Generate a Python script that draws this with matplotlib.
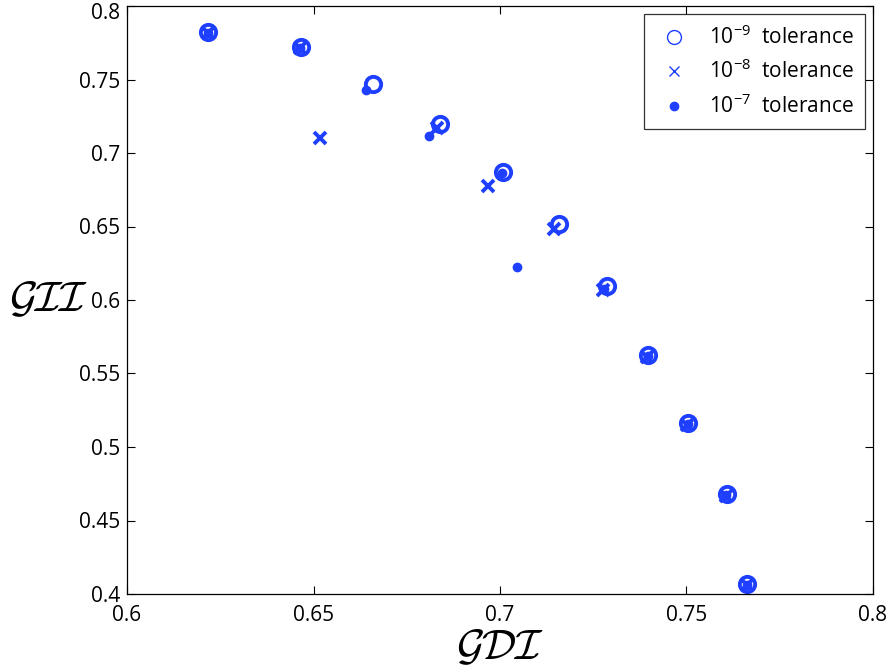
import matplotlib
matplotlib.use("Agg")
import matplotlib.pyplot as plt
from matplotlib.lines import Line2D
from matplotlib.transforms import ScaledTranslation

plt.rcParams['font.family'] = ['Open Sans', 'DejaVu Sans']
plt.rcParams['mathtext.fontset'] = 'custom'
plt.rcParams['mathtext.rm'] = 'Open Sans'
plt.rcParams['mathtext.it'] = 'Open Sans:italic'

# 1e-9 tolerance
x9 = [0.6218, 0.6466, 0.6659, 0.6839, 0.7009, 0.7159, 0.7288, 0.7398, 0.7505, 0.7609, 0.7663]
y9 = [0.7823, 0.7721, 0.7469, 0.7197, 0.6871, 0.6517, 0.6095, 0.5626, 0.5163, 0.4680, 0.4068]
# 1e-8 tolerance
x8 = [0.6216, 0.6464, 0.6517, 0.6831, 0.6969, 0.7145, 0.7276, 0.7395, 0.7502, 0.7606, 0.7661]
y8 = [0.7815, 0.7713, 0.7102, 0.7170, 0.6776, 0.6483, 0.6068, 0.5610, 0.5148, 0.4665, 0.4060]
# 1e-7 tolerance
x7 = [0.6216, 0.6464, 0.6641, 0.6810, 0.7005, 0.7046, 0.7280, 0.7396, 0.7503, 0.7607, 0.7662]
y7 = [0.7815, 0.7713, 0.7429, 0.7116, 0.6866, 0.6224, 0.6078, 0.5618, 0.5155, 0.4672, 0.4064]

labels = [r'$10^{-9}$  tolerance', r'$10^{-8}$  tolerance', r'$10^{-7}$  tolerance']
xticks = [0.6, 0.65, 0.7, 0.75, 0.8]
yticks = [0.4, 0.45, 0.5, 0.55, 0.6, 0.65, 0.7, 0.75, 0.8]

col = '#1f3fff'

fig = plt.figure(figsize=(8.89, 6.72), dpi=100)
ax = fig.add_axes([127/889, 1-594/672, 746/889, 588/672])

ax.plot(x9, y9, 'o', mfc='none', mec=col, mew=2.8, ms=11, label=labels[0])
ax.plot(x8, y8, 'x', color=col, mew=2.8, ms=8, label=labels[1])
ax.plot(x7, y7, '.', color=col, ms=12, label=labels[2])

ax.set_xlim(0.6, 0.8)
ax.set_ylim(0.4, 0.8)
ax.set_xticks(xticks)
ax.set_xticklabels([f'{v:g}' for v in xticks])
ax.set_yticks(yticks)
ax.set_yticklabels([f'{v:g}' for v in yticks])
ax.tick_params(direction='in', top=True, right=True, labelsize=15, length=6, width=0.8, pad=5)
ax.tick_params(axis='x', pad=8)
for s in ax.spines.values():
    s.set_linewidth(0.9)

# keep the top y tick label inside the figure
top_lab = ax.get_yticklabels()[-1]
top_lab.set_transform(top_lab.get_transform() + ScaledTranslation(0, -5/100, fig.dpi_scale_trans))

ax.set_xlabel(r'$\mathcal{GDI}$', fontsize=31, math_fontfamily='cm', labelpad=0)
ax.set_ylabel(r'$\mathcal{GII}$', fontsize=31, math_fontfamily='cm', rotation=0, labelpad=22, va='center')

h = [Line2D([], [], ls='none', marker='o', mfc='none', mec=col, mew=1, ms=10),
     Line2D([], [], ls='none', marker='x', color=col, mew=1, ms=7.5),
     Line2D([], [], ls='none', marker='.', color=col, ms=12)]
leg = ax.legend(h, labels, loc='upper right', bbox_to_anchor=(865/889, 1-14/672),
                bbox_transform=fig.transFigure, fontsize=15, frameon=True, fancybox=False,
                edgecolor='black', borderaxespad=0.0, handletextpad=0.75, labelspacing=0.52,
                handlelength=1.8, borderpad=0.55)
leg.get_frame().set_linewidth(0.9)

fig.savefig('out.png', dpi=100)
